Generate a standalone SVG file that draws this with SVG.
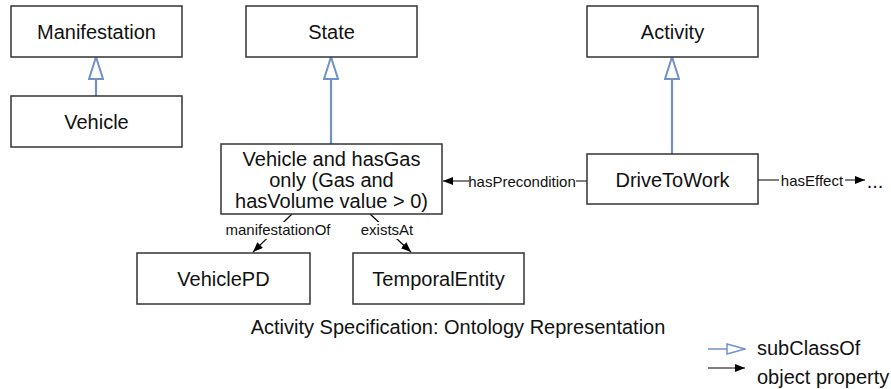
<svg xmlns="http://www.w3.org/2000/svg" width="891" height="389" viewBox="0 0 891 389">
<defs>
<marker id="sub" viewBox="0 0 24 16" refX="23" refY="8" markerWidth="24" markerHeight="16" markerUnits="userSpaceOnUse" orient="auto">
<path d="M1,1 L23,8 L1,15 Z" fill="#fff" stroke="#7092c8" stroke-width="2"/>
</marker>
<marker id="subl" viewBox="0 0 20 12" refX="19" refY="6" markerWidth="20" markerHeight="12" markerUnits="userSpaceOnUse" orient="auto">
<path d="M1,1 L19,6 L1,11 Z" fill="#fff" stroke="#7092c8" stroke-width="1.5"/>
</marker>
<marker id="obj" viewBox="0 0 10 8" refX="10" refY="4" markerWidth="10" markerHeight="8" markerUnits="userSpaceOnUse" orient="auto">
<path d="M0,0 L10,4 L0,8 Z" fill="#000"/>
</marker>
</defs>
<style>
.box{fill:#fff;stroke:#333;stroke-width:1.5}
.lbl{font-family:"Liberation Sans",Arial,sans-serif;font-size:20px;fill:#111;text-anchor:middle}
.el{font-family:"Liberation Sans",Arial,sans-serif;font-size:15px;fill:#111;text-anchor:middle}
.sub{stroke:#7092c8;stroke-width:2.2;fill:none}
.op{stroke:#000;stroke-width:1.2;fill:none}
.bg{fill:#fff}
</style>
<rect width="891" height="389" fill="#fff"/>
<g id="connectors">
<line class="sub" x1="96" y1="96" x2="96" y2="57" marker-end="url(#sub)"/>
<line class="sub" x1="331" y1="144" x2="331" y2="57" marker-end="url(#sub)"/>
<line class="sub" x1="672" y1="154" x2="672" y2="57" marker-end="url(#sub)"/>
<line class="op" x1="587" y1="181" x2="443" y2="181" marker-end="url(#obj)"/>
<rect class="bg" x="469" y="172" width="107" height="18"/>
<text class="el" x="522" y="186.5">hasPrecondition</text>
<line class="op" x1="758" y1="180" x2="865" y2="180" marker-end="url(#obj)"/>
<rect class="bg" x="779" y="171" width="66" height="18"/>
<text class="el" x="812" y="185.5">hasEffect</text>
<text class="lbl" x="875" y="188">...</text>
<line class="op" x1="292" y1="214" x2="253" y2="252" marker-end="url(#obj)"/>
<rect class="bg" x="224" y="222" width="108" height="17"/>
<text class="el" x="278" y="235">manifestationOf</text>
<line class="op" x1="370" y1="214" x2="411" y2="252" marker-end="url(#obj)"/>
<rect class="bg" x="359" y="222" width="56" height="17"/>
<text class="el" x="387" y="235">existsAt</text>
</g>
<g id="manifestation"><rect class="box" x="11" y="6" width="171" height="51"/><text class="lbl" x="96.5" y="39">Manifestation</text></g>
<g id="vehicle"><rect class="box" x="11" y="96" width="171" height="51"/><text class="lbl" x="96.5" y="129">Vehicle</text></g>
<g id="state"><rect class="box" x="246" y="6" width="171" height="51"/><text class="lbl" x="331.5" y="39">State</text></g>
<g id="activity"><rect class="box" x="587" y="6" width="171" height="51"/><text class="lbl" x="672.5" y="39">Activity</text></g>
<g id="restriction"><rect class="box" x="221" y="144" width="221" height="70"/>
<text class="lbl" x="331.5" y="166">Vehicle and hasGas</text>
<text class="lbl" x="331.5" y="187">only (Gas and</text>
<text class="lbl" x="331.5" y="208">hasVolume value &gt; 0)</text></g>
<g id="drivetowork"><rect class="box" x="587" y="154" width="171" height="50"/><text class="lbl" x="672.5" y="187">DriveToWork</text></g>
<g id="vehiclepd"><rect class="box" x="137" y="253" width="173" height="51"/><text class="lbl" x="223.5" y="286">VehiclePD</text></g>
<g id="temporalentity"><rect class="box" x="353" y="253" width="171" height="51"/><text class="lbl" x="438.5" y="286">TemporalEntity</text></g>
<g id="caption"><text class="lbl" x="458" y="334">Activity Specification: Ontology Representation</text></g>
<g id="legend">
<line class="sub" style="stroke-width:1.6" x1="708" y1="349" x2="745" y2="349" marker-end="url(#subl)"/>
<text class="lbl" x="757" y="355" style="text-anchor:start">subClassOf</text>
<line class="op" x1="708" y1="368" x2="745" y2="368" marker-end="url(#obj)"/>
<text class="lbl" x="757" y="384" style="text-anchor:start">object property</text>
</g>
</svg>
